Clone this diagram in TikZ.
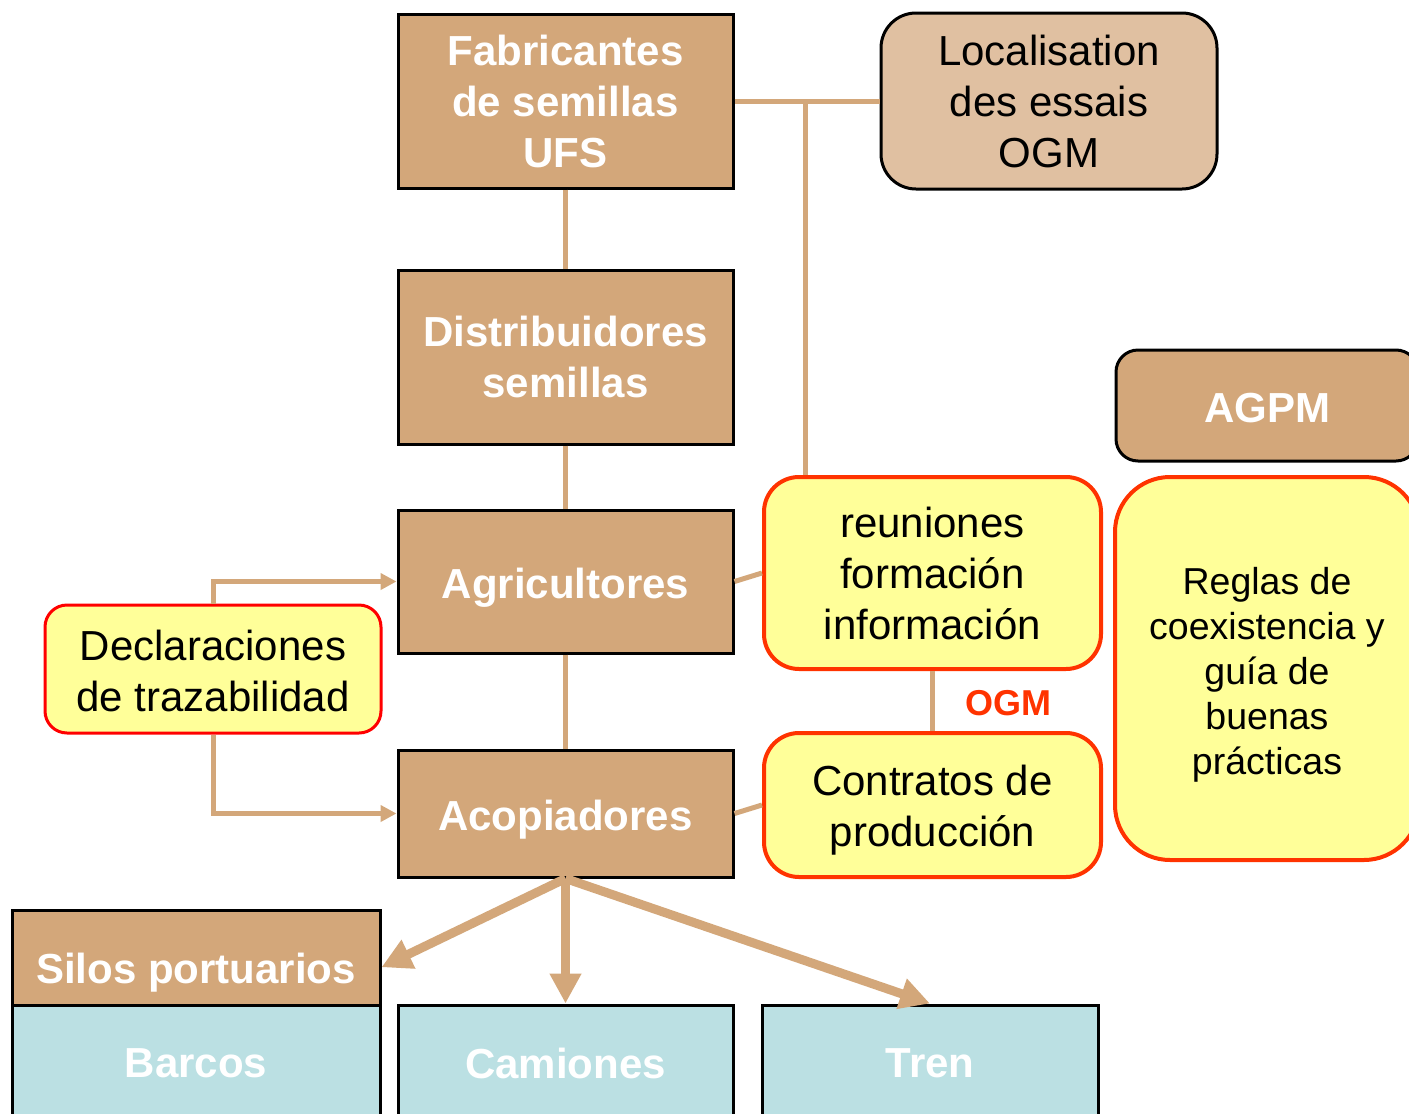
\documentclass[tikz,border=0pt]{standalone}
\usepackage{fontspec}
\setmainfont{Liberation Sans}
\usepackage{xcolor}
\usepackage{tikz}
\usetikzlibrary{positioning,arrows.meta}

\definecolor{tanfill}{RGB}{211,167,122}
\definecolor{tanlight}{RGB}{224,192,161}
\definecolor{paleyellow}{RGB}{255,255,153}
\definecolor{ogmred}{RGB}{255,51,0}
\definecolor{paleblue}{RGB}{187,224,227}

% invisible strut to push a label down a little
\newcommand{\padtop}[1]{\rule{0pt}{#1}}

\tikzset{
  bigfont/.style={font=\fontsize{42}{51}\selectfont},
  brownbox/.style={draw=black, line width=3pt, fill=tanfill, text=white,
    font=\fontsize{42}{51}\selectfont\bfseries, align=center, inner sep=0pt},
  bluebox/.style={brownbox, fill=paleblue},
  yellowbox/.style={draw=ogmred, line width=4pt, fill=paleyellow, text=black,
    bigfont, align=center, inner sep=0pt, rounded corners=35pt},
  link/.style={draw=tanfill, line width=5pt},
  flow/.style={link, -{Triangle[length=16pt,width=16pt]}},
  bigflow/.style={draw=tanfill, line width=9pt, -{Triangle[length=30pt,width=30pt]}}
}

\begin{document}
\begin{tikzpicture}[x=1pt,y=-1pt]
  \useasboundingbox (0,0) rectangle (1409,1114);
  \clip (0,0) rectangle (1409,1114);

  % central chain
  \node[brownbox, minimum width=335pt, minimum height=174pt] (fab) at (565.5,101)
    {Fabricantes\\de semillas\\UFS};
  \node[brownbox, minimum width=335pt, minimum height=174pt] (dist) at (565.5,357)
    {Distribuidores\\semillas};
  \node[brownbox, minimum width=335pt, minimum height=143pt] (agri) at (565.5,581.5)
    {\padtop{43pt}Agricultores};
  \node[brownbox, minimum width=335pt, minimum height=127pt] (acop) at (565.5,813.5)
    {\padtop{43pt}Acopiadores};

  % right side
  \node[brownbox, fill=tanlight, text=black, font=\fontsize{42}{51}\selectfont,
    rounded corners=35pt, minimum width=336pt, minimum height=176pt] (loc) at (1049,101)
    {Localisation\\des essais\\OGM};
  \node[yellowbox, minimum width=337pt, minimum height=192pt] (reun) at (932.5,573)
    {reuniones\\formación\\información};
  \node[yellowbox, minimum width=337pt, minimum height=144pt] (cont) at (932.5,805)
    {\padtop{41pt}Contratos de\\producción};
  \node[text=ogmred, font=\fontsize{36}{43}\selectfont\bfseries] (ogm) at (1008,703) {OGM};
  \node[brownbox, rounded corners=22pt, minimum width=302pt, minimum height=111pt] (agpm)
    at (1267,405.5) {\padtop{34pt}AGPM};
  \node[yellowbox, font=\fontsize{37.5}{45}\selectfont, rounded corners=55pt,
    minimum width=304pt, minimum height=383pt] (reglas) at (1267,668.5)
    {\padtop{40pt}Reglas de\\coexistencia y\\guía de\\buenas\\prácticas};

  % left side
  \node[yellowbox, draw=red, line width=3pt, rounded corners=22pt,
    minimum width=336pt, minimum height=128pt] (decl) at (213,669)
    {\padtop{35pt}Declaraciones\\de trazabilidad};

  % bottom row
  \node[brownbox, minimum width=368pt, minimum height=95pt] (silos) at (196,957.5)
    {\padtop{61pt}Silos portuarios};
  \node[bluebox, minimum width=368pt, minimum height=116pt] (barcos) at (196,1063) {Barcos};
  \node[bluebox, minimum width=335pt, minimum height=116pt] (cam) at (565.5,1063) {Camiones};
  \node[bluebox, minimum width=336pt, minimum height=116pt] (tren) at (930,1063) {Tren};

  % connectors
  \coordinate (split) at (805,101);
  \draw[link] (fab.east) -- (loc.west);
  \draw[link] (split) -- (split |- reun.north);
  \draw[link] (fab) -- (dist);
  \draw[link] (dist) -- (agri);
  \draw[link] (agri) -- (acop);
  \draw[link] (agri.east) -- (reun.west);
  \draw[link] (acop.east) -- (cont.west);
  \draw[link] (reun) -- (cont);
  \draw[flow] (decl.north) |- (agri.west);
  \draw[flow] (decl.south) |- (acop.west);

  % outgoing transport
  \draw[bigflow] (acop.south) -- (silos.357);
  \draw[bigflow] (acop.south) -- (cam.north);
  \draw[bigflow] (acop.south) -- (tren.north);
\end{tikzpicture}
\end{document}
